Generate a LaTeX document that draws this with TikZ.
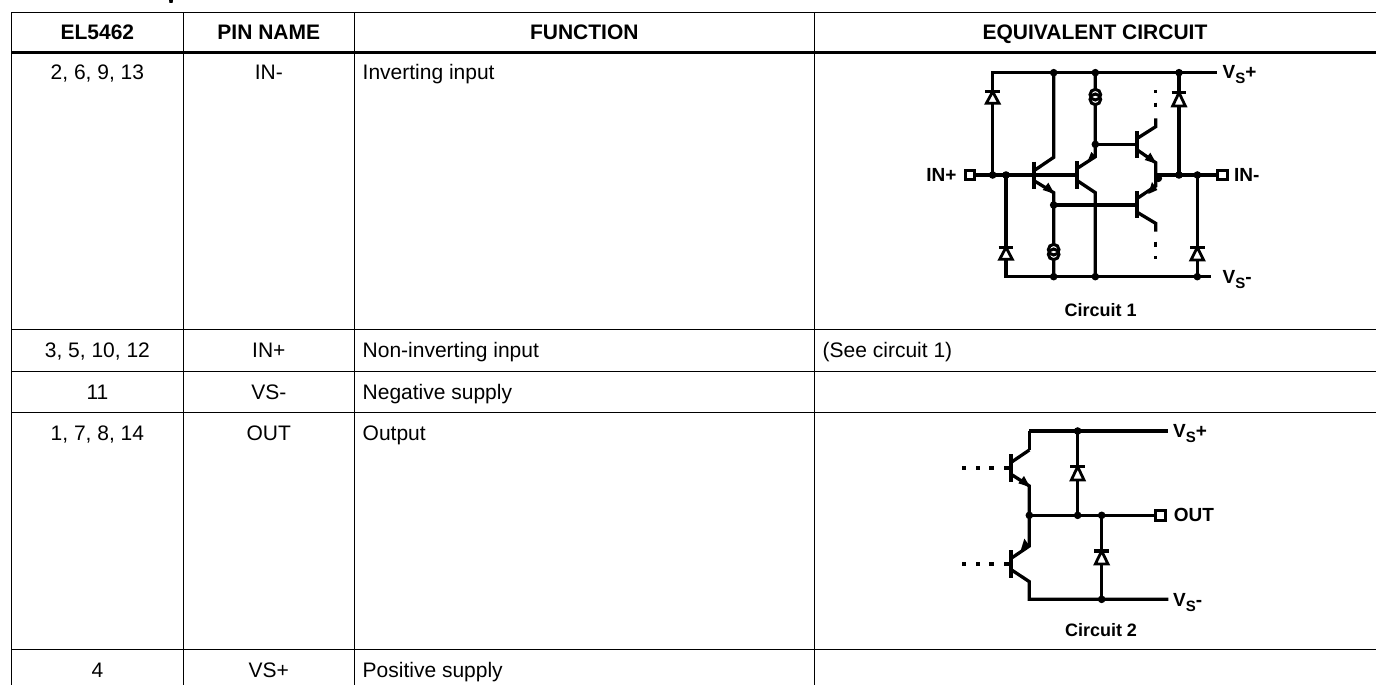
\documentclass[tikz,border=0pt]{standalone}
\usepackage{fontspec}
\setmainfont{Liberation Sans}
\tikzset{
  x=1pt,y=-1pt,
  rule/.style={line width=1.5pt,black},
  headrule/.style={line width=3pt,black},
  cell/.style={inner sep=0pt,anchor=base,font=\fontsize{21}{25}\selectfont,text=black},
  leftcell/.style={cell,anchor=base west},
  headcell/.style={cell,font=\fontsize{21}{25}\selectfont\bfseries},
  wire/.style={line width=3.3pt,line cap=butt,line join=miter},
  bar/.style={line width=4pt},
  junction/.style={fill=black,circle,inner sep=0pt,minimum size=7.6pt},
  pinbox/.style={draw=black,fill=white,line width=3pt,inner sep=0pt,minimum size=9.5pt},
  clabel/.style={inner sep=0pt,font=\fontsize{19}{22}\selectfont\bfseries},
  caption/.style={inner sep=0pt,anchor=base,font=\fontsize{18}{22}\selectfont\bfseries},
  zoomed/.style={x=0.33333pt,y=-0.33333pt},
}
\newcommand{\diodeup}[3]{% x, bar y, base y
  \draw[line width=2.8pt,fill=white,line join=miter] (#1,#3) -- (#1-19,#3) -- (#1,#2) -- (#1+19,#3) -- cycle;
  \draw[line width=3.4pt] (#1-22,#2) -- (#1+22,#2);
}
\newcommand{\isource}[2]{% x, y
  \fill[white] (#1,#2-7) circle[radius=16];
  \fill[white] (#1,#2+7) circle[radius=16];
  \draw[line width=3pt] (#1,#2-7) circle[radius=16];
  \draw[line width=3pt] (#1,#2+7) circle[radius=16];
}
\newcommand{\vsup}[3]{% x, baseline y, sign
  \node[inner sep=0pt,anchor=base west,font=\fontsize{19}{22}\selectfont\bfseries] at (#1,#2)
   {V\raisebox{-5pt}{\fontsize{15}{18}\selectfont S}#3};
}
\begin{document}
\begin{tikzpicture}
\useasboundingbox (0,0) rectangle (1376,685);
\fill[white] (0,0) rectangle (1376,685);
% clipped title fragment
\fill[black] (169,0) -- (173,0) -- (172.5,3) -- (169.5,3) -- cycle;
% table rules
\draw[rule] (11.5,12.4) -- (1376,12.4);
\draw[headrule] (11.5,53) -- (1376,53);
\foreach \yy in {329.3,371.3,412.3,649.5} \draw[rule] (11.5,\yy) -- (1376,\yy);
\foreach \xx in {11.5,183.3,354.4,814.3} \draw[rule] (\xx,12.4) -- (\xx,685);
% header
\node[headcell] (h1) at (97.4,40) {EL5462};
\node[headcell] (h2) at (268.8,40) {PIN NAME};
\node[headcell] (h3) at (584.3,40) {FUNCTION};
\node[headcell] (h4) at (1095,40) {EQUIVALENT CIRCUIT};
% rows
\node[cell] (a1) at (97.4,80) {2, 6, 9, 13};
\node[cell] (b1) at (268.8,80) {IN-};
\node[leftcell] (c1) at (362.5,80) {Inverting input};
\node[cell] (a2) at (97.4,357.5) {3, 5, 10, 12};
\node[cell] (b2) at (268.8,357.5) {IN+};
\node[leftcell] (c2) at (362.5,357.5) {Non-inverting input};
\node[leftcell] (d2) at (822.5,357.5) {(See circuit 1)};
\node[cell] (a3) at (97.4,399) {11};
\node[cell] (b3) at (268.8,399) {VS-};
\node[leftcell] (c3) at (362.5,399) {Negative supply};
\node[cell] (a4) at (97.4,440) {1, 7, 8, 14};
\node[cell] (b4) at (268.8,440) {OUT};
\node[leftcell] (c4) at (362.5,440) {Output};
\node[cell] (a5) at (97.4,677.5) {4};
\node[cell] (b5) at (268.8,677.5) {VS+};
\node[leftcell] (c5) at (362.5,677.5) {Positive supply};
% ---- Circuit 1 (coordinates in 3x crop units)
\begin{scope}[shift={(940pt,-50pt)},zoomed]
  \coordinate (inL) at (108,375);
  \coordinate (inR) at (830,375);
  \draw[wire] (158,375) -- (158,68) -- (830,68);
  \draw[wire] (198,375) -- (198,680) -- (812,680);
  \draw[wire] (inL) -- (412,375);
  \draw[wire] (647,375) -- (inR);
  \draw[wire] (341,68) -- (341,322) -- (282,362);
  \draw[wire] (282,392) -- (341,428) -- (341,680);
  \draw[wire] (466,68) -- (466,320) -- (412,355);
  \draw[wire] (412,392) -- (466,428) -- (466,680);
  \draw[wire] (466,283) -- (592,283);
  \draw[wire] (341,465) -- (592,465);
  \draw[wire] (647,205) -- (647,230) -- (592,265);
  \draw[wire] (592,300) -- (647,338) -- (647,408) -- (592,445);
  \draw[wire] (592,487) -- (647,520) -- (647,545);
  \foreach \ya/\yb in {120/130,158/172,575/590,618/628} \draw[wire] (647,\ya) -- (647,\yb);
  \draw[wire] (717,68) -- (717,375);
  \draw[wire] (772,375) -- (772,680);
  \foreach \bx/\by in {282/376,412/375,592/284,592/464}
    \draw[bar] (\bx,\by-41) -- (\bx,\by+41);
  % emitter arrows
  \fill (343,431) -- (308,420) -- (325,398) -- cycle;
  \fill (649,341) -- (614,330) -- (631,308) -- cycle;
  \fill (442,336) -- (470,322) -- (454,306) -- cycle;
  \fill (625,432) -- (652,420) -- (636,396) -- cycle;
  \diodeup{158}{125}{160}
  \diodeup{198}{592}{628}
  \diodeup{717}{128}{168}
  \diodeup{772}{592}{630}
  \isource{466}{141}
  \isource{341}{606}
  \foreach \jx/\jy in {341/68,466/68,717/68,158/375,198/375,466/283,341/465,655/385,717/375,772/375,341/680,466/680,772/680}
    \node[junction] at (\jx,\jy) {};
  \node[pinbox] (sqIp) at (90,375) {};
  \node[pinbox] (sqIm) at (847,375) {};
  \node[clabel,anchor=base east] (lIp) at (50,394) {IN+};
  \node[clabel,anchor=base west] (lIm) at (882,394) {IN-};
\end{scope}
\vsup{1222.5}{78}{+}
\vsup{1222.5}{283}{-}
\node[caption] (cap1) at (1100.7,316.5) {Circuit 1};
% ---- Circuit 2
\begin{scope}[shift={(1000pt,-400pt)},zoomed]
  \draw[wire] (88,93) -- (505,93);
  \draw[wire] (88,150) -- (88,93);
  \draw[wire] (32,188) -- (88,150);
  \draw[wire] (32,222) -- (88,258) -- (88,438) -- (32,476);
  \draw[wire] (32,508) -- (88,545) -- (88,598) -- (505,598);
  \draw[wire] (88,346) -- (465,346);
  \draw[wire] (233,93) -- (233,346);
  \draw[wire] (305,346) -- (305,598);
  \foreach \by in {204,492} {
    \draw[bar] (32,\by-41) -- (32,\by+41);
    \foreach \ya/\yb in {-114/-102,-72/-60,-32/-18,12/32}
      \draw[wire] (\ya,\by) -- (\yb,\by);
  }
  \fill (90,261) -- (55,250) -- (72,228) -- cycle;
  \fill (62,452) -- (90,440) -- (73,416) -- cycle;
  \diodeup{233}{200}{240}
  \diodeup{305}{453}{492}
  \foreach \jx/\jy in {233/93,88/346,233/346,305/346,305/598}
    \node[junction] at (\jx,\jy) {};
  \node[pinbox] (sqO) at (482,346) {};
  \node[clabel,anchor=base west] (lO) at (521,365) {OUT};
\end{scope}
\vsup{1173}{437}{+}
\vsup{1173}{606}{-}
\node[caption] (cap2) at (1101,636.5) {Circuit 2};
\end{tikzpicture}
\end{document}
